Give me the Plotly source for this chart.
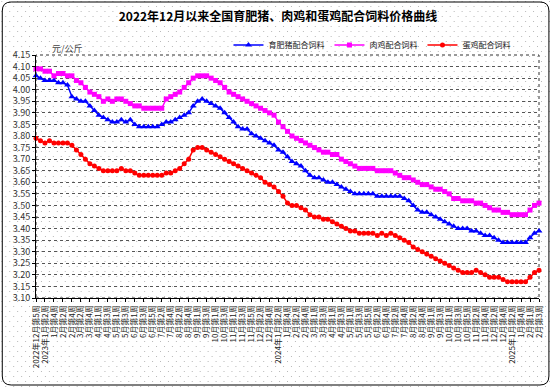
import base64
import plotly.graph_objects as go

# ---------------- data ----------------
WEEKS = [
    "2022年12月第5周",
    "2023年1月第1周", "2023年1月第2周", "2023年1月第3周", "2023年1月第4周",
    "2023年2月第1周", "2023年2月第2周", "2023年2月第3周", "2023年2月第4周",
    "2023年3月第1周", "2023年3月第2周", "2023年3月第3周", "2023年3月第4周", "2023年3月第5周",
    "2023年4月第1周", "2023年4月第2周", "2023年4月第3周", "2023年4月第4周",
    "2023年5月第1周", "2023年5月第2周", "2023年5月第3周", "2023年5月第4周",
    "2023年6月第1周", "2023年6月第2周", "2023年6月第3周", "2023年6月第4周", "2023年6月第5周",
    "2023年7月第1周", "2023年7月第2周", "2023年7月第3周", "2023年7月第4周",
    "2023年8月第1周", "2023年8月第2周", "2023年8月第3周", "2023年8月第4周", "2023年8月第5周",
    "2023年9月第1周", "2023年9月第2周", "2023年9月第3周", "2023年9月第4周",
    "2023年10月第1周", "2023年10月第2周", "2023年10月第3周", "2023年10月第4周",
    "2023年11月第1周", "2023年11月第2周", "2023年11月第3周", "2023年11月第4周", "2023年11月第5周",
    "2023年12月第1周", "2023年12月第2周", "2023年12月第3周", "2023年12月第4周",
    "2024年1月第1周", "2024年1月第2周", "2024年1月第3周", "2024年1月第4周",
    "2024年2月第1周", "2024年2月第2周", "2024年2月第3周", "2024年2月第4周", "2024年2月第5周",
    "2024年3月第1周", "2024年3月第2周", "2024年3月第3周", "2024年3月第4周",
    "2024年4月第1周", "2024年4月第2周", "2024年4月第3周", "2024年4月第4周",
    "2024年5月第1周", "2024年5月第2周", "2024年5月第3周", "2024年5月第4周", "2024年5月第5周",
    "2024年6月第1周", "2024年6月第2周", "2024年6月第3周", "2024年6月第4周",
    "2024年7月第1周", "2024年7月第2周", "2024年7月第3周", "2024年7月第4周",
    "2024年8月第1周", "2024年8月第2周", "2024年8月第3周", "2024年8月第4周", "2024年8月第5周",
    "2024年9月第1周", "2024年9月第2周", "2024年9月第3周", "2024年9月第4周",
    "2024年10月第1周", "2024年10月第2周", "2024年10月第3周", "2024年10月第4周", "2024年10月第5周",
    "2024年11月第1周", "2024年11月第2周", "2024年11月第3周", "2024年11月第4周",
    "2024年12月第1周", "2024年12月第2周", "2024年12月第3周", "2024年12月第4周",
    "2025年1月第1周", "2025年1月第2周", "2025年1月第3周", "2025年1月第4周", "2025年1月第5周",
    "2025年2月第1周", "2025年2月第2周", "2025年2月第3周",
]

TICK_LABELS = [
    "2022年12月第5周",
    "2023年1月第2周", "1月第4周", "2月第2周", "2月第4周", "3月第2周", "3月第4周",
    "4月第1周", "4月第3周", "5月第1周", "5月第3周", "6月第1周", "6月第3周", "6月第5周",
    "7月第2周", "7月第4周", "8月第2周", "8月第4周", "9月第1周", "9月第3周",
    "10月第1周", "10月第3周", "11月第1周", "11月第3周", "11月第5周", "12月第2周", "12月第4周",
    "2024年1月第2周", "1月第4周", "2月第2周", "2月第4周", "3月第1周", "3月第3周",
    "4月第1周", "4月第3周", "5月第1周", "5月第3周", "5月第5周", "6月第2周", "6月第4周",
    "7月第2周", "7月第4周", "8月第2周", "8月第4周", "9月第1周", "9月第3周",
    "10月第1周", "10月第3周", "10月第5周", "11月第2周", "11月第4周", "12月第2周", "12月第4周",
    "2025年1月第2周", "1月第4周", "2月第1周", "2月第3周",
]

PIG = [
    4.06, 4.05, 4.04, 4.04, 4.04, 4.03, 4.03, 4.02, 3.97, 3.96,
    3.95, 3.95, 3.93, 3.91, 3.89, 3.88, 3.87, 3.86, 3.86, 3.87,
    3.86, 3.87, 3.85, 3.84, 3.84, 3.84, 3.84, 3.84, 3.85, 3.86,
    3.86, 3.87, 3.88, 3.89, 3.90, 3.93, 3.95, 3.96, 3.95, 3.94,
    3.93, 3.92, 3.90, 3.88, 3.86, 3.84, 3.83, 3.83, 3.81, 3.80,
    3.79, 3.78, 3.77, 3.76, 3.74, 3.73, 3.71, 3.69, 3.68, 3.67,
    3.65, 3.63, 3.62, 3.62, 3.61, 3.60, 3.60, 3.59, 3.58, 3.57,
    3.56, 3.55, 3.55, 3.55, 3.55, 3.55, 3.54, 3.54, 3.54, 3.54,
    3.54, 3.54, 3.53, 3.52, 3.50, 3.48, 3.47, 3.47, 3.46, 3.45,
    3.44, 3.43, 3.42, 3.41, 3.40, 3.40, 3.40, 3.39, 3.39, 3.38,
    3.37, 3.37, 3.36, 3.35, 3.34, 3.34, 3.34, 3.34, 3.34, 3.34,
    3.36, 3.38, 3.39,
]

BROILER = [
    4.09, 4.09, 4.08, 4.08, 4.06, 4.07, 4.07, 4.06, 4.06, 4.04,
    4.03, 4.01, 3.99, 3.98, 3.97, 3.95, 3.96, 3.95, 3.96, 3.96,
    3.95, 3.94, 3.93, 3.93, 3.92, 3.92, 3.92, 3.92, 3.92, 3.96,
    3.97, 3.98, 3.99, 4.01, 4.03, 4.05, 4.06, 4.06, 4.06, 4.05,
    4.04, 4.03, 4.01, 3.99, 3.98, 3.97, 3.96, 3.95, 3.94, 3.93,
    3.92, 3.91, 3.90, 3.89, 3.86, 3.84, 3.82, 3.80, 3.79, 3.78,
    3.77, 3.76, 3.75, 3.74, 3.73, 3.73, 3.72, 3.72, 3.70, 3.69,
    3.68, 3.67, 3.66, 3.66, 3.66, 3.66, 3.65, 3.65, 3.65, 3.65,
    3.64, 3.63, 3.62, 3.62, 3.61, 3.60, 3.59, 3.59, 3.58, 3.57,
    3.57, 3.56, 3.55, 3.53, 3.53, 3.52, 3.52, 3.52, 3.51, 3.51,
    3.50, 3.49, 3.48, 3.48, 3.47, 3.47, 3.46, 3.46, 3.46, 3.46,
    3.48, 3.50, 3.51,
]

LAYER = [
    3.79, 3.78, 3.77, 3.78, 3.77, 3.77, 3.77, 3.77, 3.76, 3.74,
    3.72, 3.70, 3.68, 3.67, 3.66, 3.65, 3.65, 3.65, 3.65, 3.66,
    3.65, 3.65, 3.64, 3.63, 3.63, 3.63, 3.63, 3.63, 3.63, 3.64,
    3.64, 3.65, 3.66, 3.68, 3.70, 3.74, 3.75, 3.75, 3.74, 3.73,
    3.72, 3.71, 3.70, 3.69, 3.68, 3.67, 3.66, 3.65, 3.64, 3.63,
    3.62, 3.60, 3.59, 3.58, 3.56, 3.54, 3.51, 3.50, 3.50, 3.49,
    3.48, 3.46, 3.45, 3.45, 3.44, 3.44, 3.43, 3.42, 3.41, 3.40,
    3.39, 3.39, 3.38, 3.38, 3.38, 3.38, 3.37, 3.38, 3.37, 3.38,
    3.37, 3.36, 3.35, 3.34, 3.32, 3.31, 3.30, 3.29, 3.28, 3.27,
    3.26, 3.25, 3.24, 3.23, 3.22, 3.21, 3.21, 3.21, 3.22, 3.21,
    3.20, 3.19, 3.19, 3.19, 3.18, 3.17, 3.17, 3.17, 3.17, 3.17,
    3.19, 3.21, 3.22,
]

SERIES = [
    ("育肥猪配合饲料", PIG, "#0000FF", "triangle-up", 6),
    ("肉鸡配合饲料", BROILER, "#FF00FF", "square", 5),
    ("蛋鸡配合饲料", LAYER, "#FF0000", "circle", 5),
]

TITLE = "2022年12月以来全国育肥猪、肉鸡和蛋鸡配合饲料价格曲线"
UNIT = "元/公斤"

# ---------------- layout geometry ----------------
W, H = 556, 388
L, R, T, B = 36, 13, 55, 90
PW, PH = W - L - R, H - T - B

FONT = "Noto Sans CJK SC"

fig = go.Figure()
for name, vals, color, sym, size in SERIES:
    fig.add_trace(go.Scatter(
        x=WEEKS, y=vals, name=name, mode="lines+markers",
        line=dict(color=color, width=1.5),
        marker=dict(symbol=sym, size=size, color=color),
        cliponaxis=False,
    ))


def px(x):
    return (x - L) / PW


def py(y):
    return (H - B - y) / PH


# rounded outer border
x0, x1, y0, y1, r = 2, 553, 2, 385, 9
path = (f"M {px(x0 + r)},{py(y0)} L {px(x1 - r)},{py(y0)} "
        f"Q {px(x1)},{py(y0)} {px(x1)},{py(y0 + r)} L {px(x1)},{py(y1 - r)} "
        f"Q {px(x1)},{py(y1)} {px(x1 - r)},{py(y1)} L {px(x0 + r)},{py(y1)} "
        f"Q {px(x0)},{py(y1)} {px(x0)},{py(y1 - r)} L {px(x0)},{py(y0 + r)} "
        f"Q {px(x0)},{py(y0)} {px(x0 + r)},{py(y0)} Z")

shapes = [
    dict(type="path", path=path, xref="paper", yref="paper",
         line=dict(color="black", width=1), layer="above"),
    dict(type="rect", x0=0, x1=1, y0=0, y1=1, xref="paper", yref="paper",
         line=dict(color="#333333", width=1, dash="dot"), layer="below"),
]

# dotted background texture
svg = (f'<svg xmlns="http://www.w3.org/2000/svg" width="{W}" height="{H}">'
       '<defs><pattern id="p" width="8" height="10" patternUnits="userSpaceOnUse">'
       '<rect x="1" y="1" width="1" height="1" fill="#b8b8b8"/>'
       '<rect x="5" y="6" width="1" height="1" fill="#b8b8b8"/>'
       '</pattern></defs>'
       f'<rect width="{W}" height="{H}" fill="white"/>'
       f'<rect width="{W}" height="{H}" fill="url(#p)"/></svg>')
src = "data:image/svg+xml;base64," + base64.b64encode(svg.encode()).decode()

fig.update_layout(
    width=W, height=H,
    margin=dict(l=L, r=R, t=T, b=B),
    paper_bgcolor="white",
    plot_bgcolor="rgba(0,0,0,0)",
    font=dict(family=FONT, size=9, color="#222222"),
    title=dict(text=f"<b>{TITLE}</b>", x=0.5, xanchor="center",
               y=1 - 17 / H, yanchor="middle",
               font=dict(family=FONT, size=12, color="black")),
    showlegend=True,
    legend=dict(orientation="h", x=px(230), xanchor="left",
                y=py(45), yanchor="middle",
                font=dict(family=FONT, size=8, color="#222222"),
                bgcolor="rgba(0,0,0,0)", itemwidth=30,
                tracegroupgap=0),
    images=[dict(source=src, xref="paper", yref="paper",
                 x=px(0), y=py(0), sizex=W / PW, sizey=H / PH,
                 sizing="stretch", xanchor="left", yanchor="top",
                 layer="below")],
    shapes=shapes,
    annotations=[dict(text=UNIT, xref="paper", yref="paper",
                      x=px(50), y=py(49), xanchor="left", yanchor="middle",
                      showarrow=False,
                      font=dict(family=FONT, size=9, color="#444444"))],
)

fig.update_xaxes(
    type="category",
    range=[0, len(WEEKS) - 1],
    tickmode="array",
    tickvals=WEEKS[::2],
    ticktext=TICK_LABELS,
    tickangle=-90,
    tickfont=dict(family=FONT, size=8, color="#222222"),
    showgrid=False,
    showline=True, linecolor="black", linewidth=1,
    ticks="outside", ticklen=3, tickcolor="black",
    zeroline=False,
)

fig.update_yaxes(
    range=[3.10, 4.15],
    dtick=0.05, tick0=3.10,
    tickformat=".2f",
    tickfont=dict(family=FONT, size=9, color="#333333"),
    showgrid=True, gridcolor="#555555", gridwidth=1, griddash="dot",
    showline=True, linecolor="black", linewidth=1,
    ticks="outside", ticklen=3, tickcolor="black",
    zeroline=False,
)

fig.write_html("out.html", config={"displayModeBar": False},
               post_script="document.body.style.margin='0';")
